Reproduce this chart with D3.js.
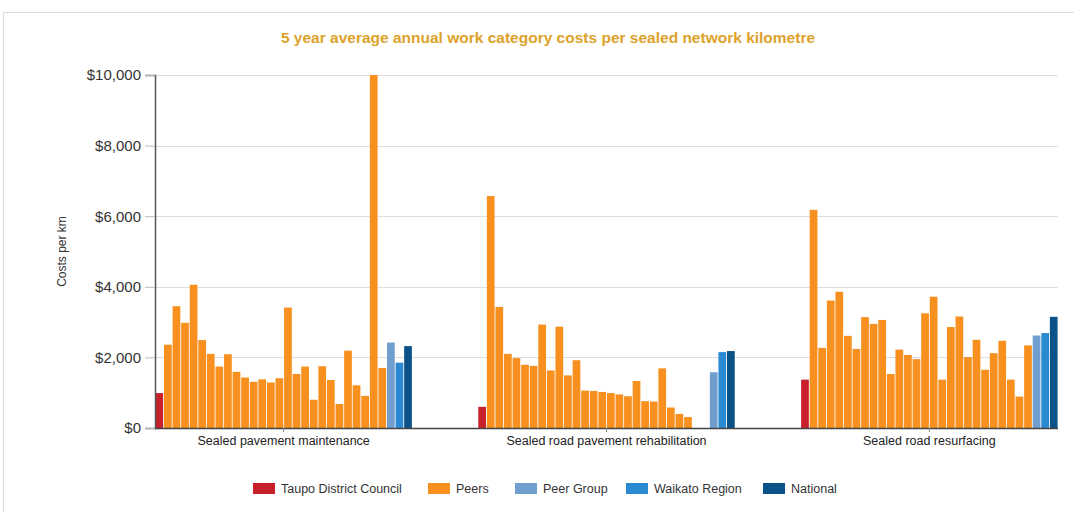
<!DOCTYPE html>
<html>
<head>
<meta charset="utf-8">
<script src="https://cdn.jsdelivr.net/npm/d3@7"></script>
<style>
  body { margin: 0; background: #fff; font-family: "Liberation Sans", Arial, sans-serif; }
</style>
</head>
<body>
<div id="chart"></div>
<script>
const categories = [
  "Sealed pavement maintenance",
  "Sealed road pavement rehabilitation",
  "Sealed road resurfacing",
];

// one value per category
const taupo = [990, 600, 1370];
const peers = [
  [2360, 6570, 6180],
  [3450, 3430, 2270],
  [2980, 2100, 3610],
  [4060, 1980, 3860],
  [2490, 1790, 2610],
  [2100, 1760, 2240],
  [1740, 2930, 3140],
  [2090, 1630, 2950],
  [1590, 2870, 3060],
  [1430, 1490, 1530],
  [1310, 1920, 2220],
  [1380, 1060, 2070],
  [1290, 1050, 1950],
  [1410, 1020, 3250],
  [3410, 990, 3720],
  [1530, 950, 1370],
  [1740, 900, 2860],
  [800, 1330, 3160],
  [1750, 760, 2010],
  [1360, 750, 2500],
  [680, 1690, 1650],
  [2190, 580, 2120],
  [1210, 400, 2470],
  [910, 310, 1370],
  [10000, null, 890],
  [1700, null, 2340],
];
const peerGroup = [2420, 1580, 2620];
const waikato = [1850, 2150, 2690];
const national = [2320, 2180, 3150];

const yTicks = [0, 2000, 4000, 6000, 8000, 10000];

const legendNames = ["Taupo District Council", "Peers", "Peer Group", "Waikato Region", "National"];
const colours = ["#c9212b", "#f7901e", "#6f9ecf", "#2b89d2", "#0b5288"];

const series = [
  { key: "taupo", type: 0, values: taupo },
  ...peers.map((v, i) => ({ key: "peer" + i, type: 1, values: v })),
  { key: "peerGroup", type: 2, values: peerGroup },
  { key: "waikato", type: 3, values: waikato },
  { key: "national", type: 4, values: national },
];

const width = 1074;
const height = 512;
const plot = { left: 155, right: 1058, top: 75, bottom: 428 };

const svg = d3.select("#chart").append("svg")
  .attr("width", width)
  .attr("height", height);

// frame
svg.append("rect")
  .attr("x", 3.5).attr("y", 12.5)
  .attr("width", width + 10).attr("height", height)
  .attr("fill", "none").attr("stroke", "#dcdcdc");

svg.append("text")
  .attr("x", 548).attr("y", 43)
  .attr("text-anchor", "middle")
  .style("font-size", "15.5px")
  .style("font-weight", "bold")
  .style("fill", "#dda22a")
  .text("5 year average annual work category costs per sealed network kilometre");

const y = d3.scaleLinear().domain([0, 10000]).range([plot.bottom, plot.top]);

const x0 = d3.scaleBand()
  .domain(categories)
  .range([plot.left, plot.right])
  .paddingInner(0.203)
  .paddingOuter(0);

const x1 = d3.scaleBand()
  .domain(series.map((s) => s.key))
  .range([0, x0.bandwidth()])
  .paddingInner(0.1)
  .paddingOuter(0.05);

// gridlines
svg.append("g")
  .selectAll("line")
  .data(yTicks.slice(1))
  .join("line")
  .attr("x1", plot.left).attr("x2", plot.right)
  .attr("y1", (d) => Math.round(y(d)) + 0.5)
  .attr("y2", (d) => Math.round(y(d)) + 0.5)
  .attr("stroke", "#dedede")
  .attr("stroke-width", 1.2);

// bars
const groups = svg.append("g")
  .selectAll("g")
  .data(categories)
  .join("g")
  .attr("transform", (d) => `translate(${x0(d)},0)`);

groups.selectAll("rect")
  .data((c, ci) =>
    series
      .filter((s) => s.values[ci] != null)
      .map((s) => ({ key: s.key, type: s.type, v: s.values[ci] })),
  )
  .join("rect")
  .attr("x", (d) => x1(d.key))
  .attr("width", x1.bandwidth())
  .attr("y", (d) => y(d.v))
  .attr("height", (d) => y(0) - y(d.v))
  .attr("fill", (d) => colours[d.type]);

// y axis
const yAxis = svg.append("g")
  .attr("transform", `translate(${plot.left},0)`)
  .call(
    d3.axisLeft(y)
      .tickValues(yTicks)
      .tickSize(10)
      .tickPadding(4)
      .tickFormat((d) => "$" + d3.format(",")(d)),
  );
yAxis.select(".domain").attr("stroke", "#555").attr("stroke-width", 1.5);
yAxis.selectAll(".tick line").attr("stroke", "#bbb");
yAxis.selectAll(".tick text")
  .style("font-size", "15px")
  .style("fill", "#333")
  .style("font-family", "'Liberation Sans', Arial, sans-serif");

svg.append("text")
  .attr("transform", `translate(66,${(plot.top + plot.bottom) / 2}) rotate(-90)`)
  .attr("text-anchor", "middle")
  .style("font-size", "12px")
  .style("fill", "#333")
  .text("Costs per km");

// x axis
const xAxis = svg.append("g")
  .attr("transform", `translate(0,${plot.bottom})`)
  .call(d3.axisBottom(x0).tickSize(4).tickPadding(4).tickSizeOuter(0));
xAxis.select(".domain")
  .attr("d", `M${plot.left},0.5H${plot.right}`)
  .attr("stroke", "#444")
  .attr("stroke-width", 1.5);
xAxis.selectAll(".tick line").attr("stroke", "#888");
xAxis.selectAll(".tick text")
  .style("font-size", "12.5px")
  .style("fill", "#222")
  .style("font-family", "'Liberation Sans', Arial, sans-serif");

// legend
const legendX = [253, 428, 515, 626, 763];
const legend = svg.append("g")
  .selectAll("g")
  .data(legendNames)
  .join("g")
  .attr("transform", (d, i) => `translate(${legendX[i]},483)`);

legend.append("rect")
  .attr("width", 22).attr("height", 11)
  .attr("fill", (d, i) => colours[i]);

legend.append("text")
  .attr("x", 28).attr("y", 10)
  .style("font-size", "12.5px")
  .style("fill", "#333")
  .text((d) => d);
</script>
</body>
</html>
